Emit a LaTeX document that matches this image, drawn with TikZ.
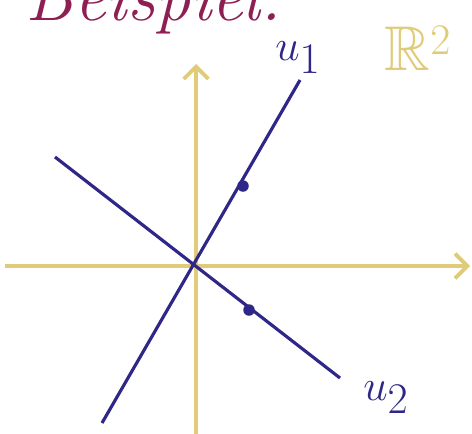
\documentclass[tikz,border=0pt]{standalone}
\usepackage{amssymb}
\usetikzlibrary{arrows.meta}
\definecolor{achse}{HTML}{DFCB78}
\definecolor{vekt}{HTML}{2F2787}
\definecolor{titel}{HTML}{8E1F52}

\begin{document}
\begin{tikzpicture}[
x=0.02cm, y=-0.02cm,
axis/.style={draw=achse, line width=2.2pt, -{Straight Barb[length=7pt, width=14pt, line width=2.2pt]}},
gerade/.style={draw=vekt, line width=1.8pt},
dot/.style={circle, fill=vekt, inner sep=0pt, minimum size=0.23cm},
lbl/.style={inner sep=0pt, font=\fontsize{36}{40}\selectfont}
]
\useasboundingbox (0,0) rectangle (472,433);

\node[lbl, text=titel, anchor=base east, font=\fontsize{40}{44}\selectfont\itshape] (title) at (282,20) {Beispiel:};

\coordinate (xl) at (5,266);
\coordinate (xr) at (470,266);
\coordinate (yb) at (196,440);
\coordinate (yt) at (196,64);

\coordinate (a1) at (102,423);
\coordinate (a2) at (300,80);
\coordinate (b1) at (55,157);
\coordinate (b2) at (340,378);

\draw[axis] (xl) -- (xr);
\draw[axis] (yb) -- (yt);

\draw[gerade] (a1) -- (a2);
\draw[gerade] (b1) -- (b2);

\node[dot] (p1) at (243,186) {};
\node[dot] (p2) at (249,310) {};

\node[lbl, text=vekt] (u1) at (298,58) {$u_1$};
\node[lbl, text=vekt] (u2) at (386,398) {$u_2$};
\node[lbl, text=achse] (R) at (418,48) {$\mathbb{R}^2$};

\end{tikzpicture}
\end{document}
